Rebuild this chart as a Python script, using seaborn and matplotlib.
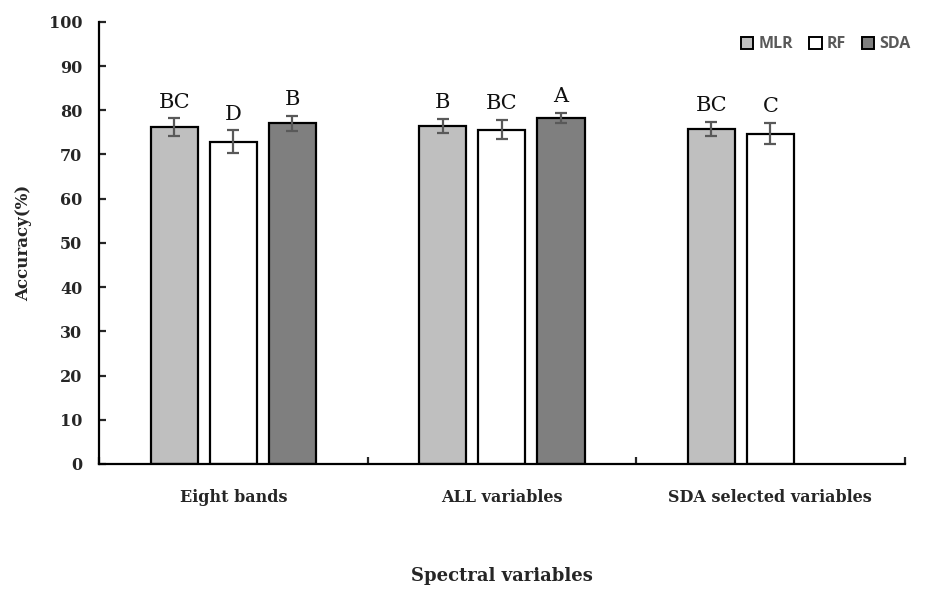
import numpy as np
import pandas as pd
import seaborn as sns
import matplotlib.pyplot as plt

# data
groups = ['Eight bands', 'ALL variables', 'SDA selected variables']
models = ['MLR', 'RF', 'SDA']
mlr = [76.2, 76.5, 75.8]
rf = [72.9, 75.6, 74.7]
sda = [77.1, 78.3, np.nan]
mlr_err = [2.0, 1.6, 1.6]
rf_err = [2.6, 2.2, 2.4]
sda_err = [1.7, 1.1, np.nan]
mlr_let = ['BC', 'B', 'BC']
rf_let = ['D', 'BC', 'C']
sda_let = ['B', 'A', '']

rows = []
for m, vals, errs, lets in zip(models, [mlr, rf, sda], [mlr_err, rf_err, sda_err],
                               [mlr_let, rf_let, sda_let]):
    for g, v, e, l in zip(groups, vals, errs, lets):
        rows.append({'group': g, 'model': m, 'acc': v, 'err': e, 'letter': l})
df = pd.DataFrame(rows).dropna()

sns.set_style('white')
plt.rcParams['font.family'] = ['DejaVu Serif']

fig = plt.figure(figsize=(9.25, 5.9), dpi=100)
ax = fig.add_axes([0.107, 0.2136, 0.871, 0.7494])

pal = {'MLR': '#bfbfbf', 'RF': '#ffffff', 'SDA': '#7f7f7f'}
sns.barplot(data=df, x='group', y='acc', hue='model', order=groups, hue_order=models,
            palette=pal, width=0.66, gap=0.2, errorbar=None, edgecolor='black',
            linewidth=1.6, saturation=1, ax=ax)

# error bars + letters
for cont, m in zip(ax.containers, models):
    present = set(df[df['model'] == m]['group'])
    sub = df[df['model'] == m].set_index('group').reindex([g for g in groups if g in present])
    for bar, (_, r) in zip(cont, sub.iterrows()):
        xc = bar.get_x() + bar.get_width() / 2
        ax.errorbar(xc, r['acc'], yerr=r['err'], fmt='none', ecolor='#595959',
                    elinewidth=1.6, capsize=4.5, capthick=1.6, zorder=5)
        ax.text(xc, r['acc'] + r['err'] + 1.5, r['letter'], ha='center', va='bottom',
                fontsize=15, color='#111111')

ax.set_ylim(0, 100)
ax.set_xlim(-0.5, 2.5)
ax.set_yticks(range(0, 101, 10))
ax.set_xticks([-0.5, 0.5, 1.5, 2.5], minor=True)
ax.tick_params(axis='x', which='major', length=0, pad=18)
ax.tick_params(axis='x', which='minor', direction='in', length=5, width=1.6, bottom=True)
ax.tick_params(axis='y', direction='in', length=5, width=1.6, left=True, pad=12)
for lab in ax.get_xticklabels() + ax.get_yticklabels():
    lab.set_fontweight('bold')
    lab.set_fontsize(11.5)

for s in ['top', 'right']:
    ax.spines[s].set_visible(False)
for s in ['left', 'bottom']:
    ax.spines[s].set_linewidth(1.6)
    ax.spines[s].set_color('black')

ax.set_ylabel('Accuracy(%)', fontsize=12, fontweight='bold', labelpad=12)
ax.set_xlabel('Spectral variables', fontsize=13, fontweight='bold', labelpad=44)

leg = ax.legend(loc='upper right', ncol=3, frameon=False, bbox_to_anchor=(1.025, 1.0),
                handlelength=0.8, handleheight=0.8, handletextpad=0.3, columnspacing=1.0,
                prop={'family': 'Open Sans', 'weight': 'bold', 'size': 11.5})
for t in leg.get_texts():
    t.set_color('#595959')
for h in leg.legend_handles:
    h.set_edgecolor('black')
    h.set_linewidth(1.4)

fig.savefig('out.png', dpi=100)
